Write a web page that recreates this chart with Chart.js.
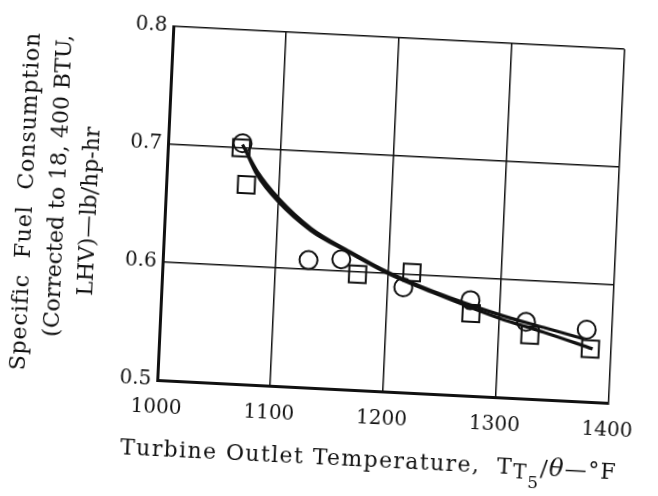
<!DOCTYPE html>
<html><head><meta charset="utf-8">
<script src="https://cdn.jsdelivr.net/npm/chart.js@4.4.0/dist/chart.umd.min.js"></script>
<style>
html,body{margin:0;padding:0;background:#fff;overflow:hidden;width:658px;height:496px;}
#wrap{position:absolute;left:0;top:0;width:658px;height:496px;transform-origin:398.5px 215px;transform:matrix(0.9987,0.0506,-0.0454,0.9990,0,0);}
canvas{display:block;}
</style></head><body><div id="wrap"><canvas id="c" width="658" height="496"></canvas></div>
<script>
// ---- data ----
const xTicks = [1000, 1100, 1200, 1300, 1400];
const yTicks = [0.5, 0.6, 0.7, 0.8];

const circleX = [1066, 1129, 1158, 1214, 1274, 1324, 1378];
const circleY = [0.704, 0.608, 0.610, 0.589, 0.581, 0.565, 0.561];

const squareX = [1065, 1071, 1173, 1221, 1275, 1328, 1382];
const squareY = [0.700, 0.669, 0.598, 0.602, 0.570, 0.554, 0.545];

const curveAX = [1066, 1080, 1100, 1130, 1165, 1200, 1240, 1300, 1340, 1376];
const curveAY = [0.703, 0.681, 0.659, 0.635, 0.617, 0.601, 0.587, 0.570, 0.561, 0.553];

const curveBX = [1068, 1080, 1100, 1130, 1165, 1200, 1240, 1300, 1340, 1384];
const curveBY = [0.700, 0.678, 0.656, 0.633, 0.616, 0.600, 0.586, 0.567, 0.557, 0.545];

const yTitle = ['Specific  Fuel  Consumption', '(Corrected to 18, 400 BTU,', 'LHV)\u2014lb/hp-hr'];
const xTitleMain = 'Turbine Outlet Temperature,  T';
const xTitleSub = 'T';
const xTitleSubSub = '5';
const xTitleRest1 = '/';
const xTitleTheta = '\u03b8';
const xTitleRest2 = '\u2014\u00b0F';

const pts = (xs, ys) => xs.map((x, i) => ({x: x, y: ys[i]}));
const INK = '#111111';

const titlePlugin = {
  id: 'titles',
  afterDraw(chart) {
    const {ctx, chartArea: a} = chart;
    ctx.save();
    ctx.fillStyle = INK;
    // y title (three rotated lines)
    ctx.textAlign = 'center';
    ctx.textBaseline = 'middle';
    const cy = (a.top + a.bottom) / 2;
    const yl = [[yTitle[0], 26, 5, '0.9px'], [yTitle[1], 58, -12, '0px'], [yTitle[2], 90, 12, '0px']];
    yl.forEach(([t, x, dy, ls]) => {
      ctx.save();
      ctx.font = '22px "DejaVu Serif"';
      ctx.letterSpacing = ls;
      ctx.translate(x, cy + dy);
      ctx.rotate(-Math.PI / 2);
      ctx.fillText(t, 0, 0);
      ctx.restore();
    });
    // x title with subscripts
    const big = '22px "DejaVu Serif"';
    const parts = [
      [xTitleMain, big, 0],
      [xTitleSub, '20px "DejaVu Serif"', 4],
      [xTitleSubSub, '17px "DejaVu Serif"', 13],
      [xTitleRest1, big, 0],
      [xTitleTheta, 'italic 24px "DejaVu Serif"', 0],
      [xTitleRest2, big, 0]
    ];
    ctx.letterSpacing = '1.4px';
    let total = 0;
    parts.forEach(p => { ctx.font = p[1]; p.push(ctx.measureText(p[0]).width); total += p[3]; });
    let x = (a.left + a.right) / 2 - 11 - total / 2;
    const base = a.bottom + 76;
    ctx.textAlign = 'left';
    ctx.textBaseline = 'alphabetic';
    parts.forEach(p => {
      ctx.font = p[1];
      ctx.fillText(p[0], x, base + p[2]);
      x += p[3];
    });
    ctx.restore();
  }
};

new Chart(document.getElementById('c'), {
  type: 'scatter',
  data: {
    datasets: [
      {
        type: 'line', data: pts(curveAX, curveAY), borderColor: INK, borderWidth: 3.2,
        pointRadius: 0, cubicInterpolationMode: 'monotone', fill: false
      },
      {
        type: 'line', data: pts(curveBX, curveBY), borderColor: INK, borderWidth: 3.2,
        pointRadius: 0, cubicInterpolationMode: 'monotone', fill: false
      },
      {
        data: pts(circleX, circleY), pointStyle: 'circle', pointRadius: 9,
        borderColor: INK, borderWidth: 2, backgroundColor: 'rgba(0,0,0,0)'
      },
      {
        data: pts(squareX, squareY), pointStyle: 'rect', pointRadius: 12,
        borderColor: INK, borderWidth: 2, backgroundColor: 'rgba(0,0,0,0)'
      }
    ]
  },
  options: {
    responsive: false,
    devicePixelRatio: 1,
    animation: false,
    events: [],
    layout: {padding: {left: 0, top: 38, right: 26, bottom: 0}},
    plugins: {legend: {display: false}, tooltip: {enabled: false}},
    scales: {
      x: {
        type: 'linear', min: 1000, max: 1400,
        afterBuildTicks: s => { s.ticks = xTicks.map(v => ({value: v})); },
        afterFit: s => { s.height = 104; },
        grid: {color: INK, lineWidth: 1.5, drawTicks: false},
        border: {color: INK, width: 3},
        ticks: {padding: 16, color: INK, font: {family: 'DejaVu Serif', size: 20}, callback: v => String(v), maxRotation: 0}
      },
      y: {
        type: 'linear', min: 0.5, max: 0.8,
        afterBuildTicks: s => { s.ticks = yTicks.map(v => ({value: v})); },
        afterFit: s => { s.width = 165; },
        grid: {color: INK, lineWidth: 1.5, drawTicks: false},
        border: {color: INK, width: 3},
        ticks: {padding: 6, color: INK, font: {family: 'DejaVu Serif', size: 20}, callback: v => Number(v).toFixed(1)}
      }
    }
  },
  plugins: [titlePlugin]
});
</script></body></html>
